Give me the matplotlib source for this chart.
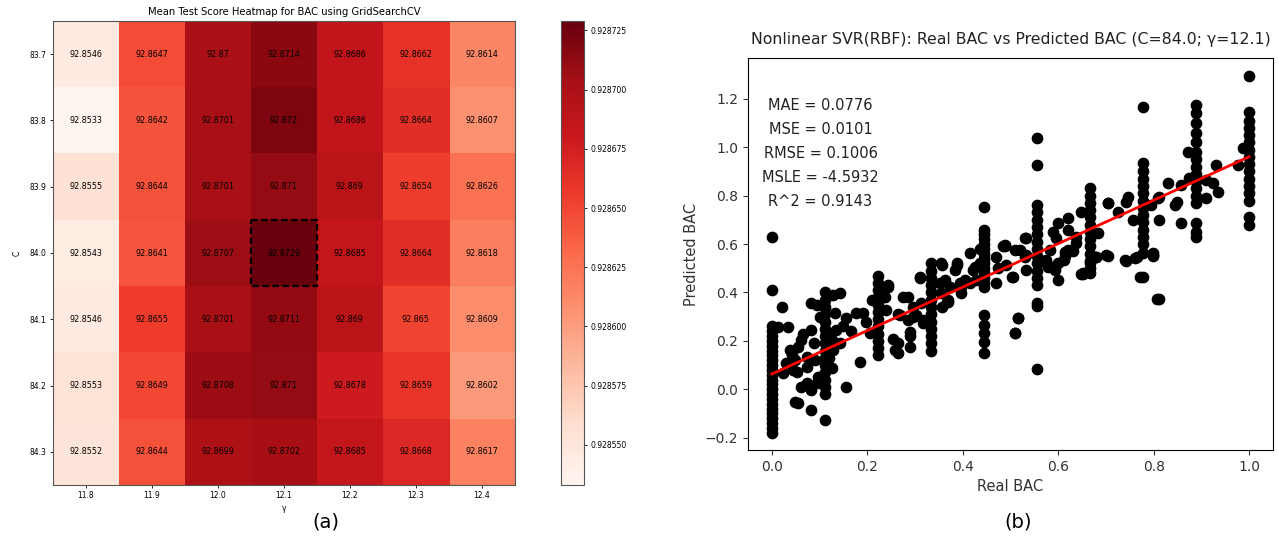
import numpy as np
import matplotlib
matplotlib.use("Agg")
import matplotlib.pyplot as plt
from matplotlib.patches import Rectangle
from matplotlib.ticker import FormatStrFormatter

# ---------------- heatmap data ----------------
C_labels = ["83.7", "83.8", "83.9", "84.0", "84.1", "84.2", "84.3"]
gamma_labels = ["11.8", "11.9", "12.0", "12.1", "12.2", "12.3", "12.4"]
row_83_7 = [92.8546, 92.8647, 92.87, 92.8714, 92.8686, 92.8662, 92.8614]
row_83_8 = [92.8533, 92.8642, 92.8701, 92.872, 92.8686, 92.8664, 92.8607]
row_83_9 = [92.8555, 92.8644, 92.8701, 92.871, 92.869, 92.8654, 92.8626]
row_84_0 = [92.8543, 92.8641, 92.8707, 92.8729, 92.8685, 92.8664, 92.8618]
row_84_1 = [92.8546, 92.8655, 92.8701, 92.8711, 92.869, 92.865, 92.8609]
row_84_2 = [92.8553, 92.8649, 92.8708, 92.871, 92.8678, 92.8659, 92.8602]
row_84_3 = [92.8552, 92.8644, 92.8699, 92.8702, 92.8685, 92.8668, 92.8617]
best_C = "84.0"
best_gamma = "12.1"
cbar_ticks = [0.928550, 0.928575, 0.928600, 0.928625, 0.928650, 0.928675, 0.928700, 0.928725]

# ---------------- scatter data ----------------
# predicted values at the discrete real-BAC levels
real_levels = [0.0, 1/9, 2/9, 3/9, 4/9, 5/9, 6/9, 7/9, 8/9, 1.0]
pred_at_0 = [-0.18, -0.16, -0.14, -0.12, -0.10, -0.08, -0.06, -0.04, -0.02, 0.0, 0.02, 0.04,
             0.06, 0.08, 0.10, 0.12, 0.14, 0.16, 0.18, 0.20, 0.22, 0.24, 0.26, 0.41, 0.63]
pred_at_1 = [0.40, 0.37, 0.34, 0.31, 0.28, 0.25, 0.22, 0.19, 0.16, 0.13, 0.10, 0.07, 0.04,
             0.01, -0.02, -0.126]
pred_at_2 = [0.47, 0.44, 0.41, 0.38, 0.35, 0.32, 0.29, 0.26, 0.23, 0.20, 0.17, 0.14]
pred_at_3 = [0.52, 0.49, 0.46, 0.43, 0.40, 0.37, 0.34, 0.31, 0.28, 0.25, 0.22, 0.19, 0.16]
pred_at_4 = [0.755, 0.66, 0.64, 0.62, 0.60, 0.58, 0.56, 0.54, 0.52, 0.50, 0.48, 0.46, 0.44,
             0.424, 0.307, 0.266, 0.231, 0.197, 0.149]
pred_at_5 = [1.037, 0.927, 0.762, 0.734, 0.70, 0.67, 0.64, 0.61, 0.58, 0.55, 0.52, 0.49,
             0.46, 0.43, 0.355, 0.345, 0.084]
pred_at_6 = [0.83, 0.80, 0.77, 0.74, 0.71, 0.68, 0.65, 0.62, 0.59, 0.56, 0.53, 0.50, 0.48]
pred_at_7 = [1.168, 0.934, 0.90, 0.87, 0.84, 0.81, 0.78, 0.75, 0.72, 0.69, 0.66, 0.63,
             0.60, 0.562, 0.465]
pred_at_8 = [1.175, 1.14, 1.10, 1.06, 1.02, 0.98, 0.95, 0.92, 0.89, 0.86, 0.83, 0.80,
             0.77, 0.686, 0.651, 0.631]
pred_at_9 = [1.295, 1.147, 1.11, 1.08, 1.05, 1.02, 0.99, 0.96, 0.93, 0.90, 0.87, 0.84,
             0.81, 0.78, 0.71, 0.68]

# points between the discrete levels
other_real = [0.022, 0.0135, 0.034, 0.024, 0.045, 0.038, 0.048, 0.055, 0.062, 0.073, 0.083,
              0.083, 0.094, 0.073, 0.062, 0.073, 0.083, 0.094, 0.097, 0.055, 0.048, 0.083,
              0.030, 0.042, 0.066, 0.088, 0.100, 0.090, 0.052,
              0.128, 0.142, 0.132, 0.125, 0.135, 0.125, 0.128, 0.156, 0.156, 0.142,
              0.118, 0.150, 0.165, 0.120,
              0.177, 0.191, 0.184, 0.205, 0.209, 0.198,
              0.243, 0.233, 0.240, 0.257, 0.264, 0.268, 0.275, 0.285, 0.289, 0.289, 0.296,
              0.303, 0.310, 0.317, 0.313,
              0.244, 0.237, 0.285, 0.296, 0.289, 0.254, 0.264, 0.264, 0.317,
              0.356, 0.352, 0.356, 0.370, 0.387, 0.394, 0.415, 0.422, 0.436, 0.355, 0.387,
              0.415, 0.436, 0.484, 0.470, 0.474, 0.491, 0.470,
              0.310, 0.362, 0.373, 0.397, 0.404, 0.425, 0.428, 0.397, 0.366, 0.383, 0.355,
              0.369,
              0.488, 0.505, 0.520, 0.530, 0.533, 0.533, 0.516, 0.509,
              0.488, 0.509, 0.533, 0.530, 0.582, 0.589, 0.596, 0.575, 0.600, 0.620, 0.620,
              0.638, 0.620, 0.613, 0.600, 0.593, 0.504, 0.600, 0.516, 0.509, 0.579, 0.614,
              0.631,
              0.575, 0.589, 0.614, 0.638, 0.648, 0.652, 0.680, 0.683,
              0.648, 0.666, 0.680, 0.651, 0.704, 0.704, 0.701, 0.725, 0.746, 0.742, 0.739,
              0.760, 0.771, 0.764, 0.742, 0.704, 0.757, 0.799,
              0.798, 0.795, 0.812, 0.830, 0.844, 0.858, 0.858, 0.848, 0.812, 0.875, 0.872,
              0.798, 0.811, 0.806, 0.809,
              0.910, 0.931, 0.935, 0.910, 0.924, 0.977, 0.987]
other_pred = [0.341, 0.259, 0.256, 0.066, 0.080, 0.162, 0.121, 0.176, 0.203, 0.135, 0.245,
              0.355, 0.348, 0.093, 0.010, 0.024, -0.003, 0.024, 0.052, -0.058, -0.051, -0.086,
              0.110, 0.140, 0.230, 0.190, 0.300, 0.120, 0.070,
              0.390, 0.397, 0.314, 0.204, 0.245, 0.087, 0.162, 0.293, 0.011, 0.190,
              0.230, 0.260, 0.240, 0.130,
              0.314, 0.314, 0.114, 0.231, 0.369, 0.280,
              0.430, 0.383, 0.328, 0.162, 0.148, 0.307, 0.383, 0.286, 0.238, 0.176, 0.341,
              0.307, 0.458, 0.286, 0.355,
              0.424, 0.383, 0.383, 0.300, 0.220, 0.207, 0.193, 0.310, 0.272,
              0.514, 0.438, 0.340, 0.370, 0.514, 0.438, 0.440, 0.493, 0.520, 0.520, 0.520,
              0.562, 0.580, 0.590, 0.548, 0.500, 0.514, 0.440,
              0.465, 0.450, 0.424, 0.424, 0.452, 0.506, 0.452, 0.396, 0.362, 0.493, 0.397,
              0.362,
              0.590, 0.466, 0.576, 0.624, 0.555, 0.493, 0.293, 0.231,
              0.597, 0.576, 0.624, 0.548, 0.576, 0.651, 0.624, 0.520, 0.686, 0.706, 0.658,
              0.630, 0.576, 0.535, 0.520, 0.493, 0.463, 0.452, 0.293, 0.231, 0.507, 0.551,
              0.570,
              0.535, 0.507, 0.569, 0.603, 0.734, 0.479, 0.548, 0.644,
              0.478, 0.520, 0.548, 0.476, 0.768, 0.551, 0.555, 0.734, 0.796, 0.775, 0.534,
              0.541, 0.465, 0.548, 0.532, 0.768, 0.700, 0.555,
              0.562, 0.761, 0.796, 0.851, 0.761, 0.844, 0.686, 0.775, 0.699, 0.872, 0.982,
              0.551, 0.372, 0.372, 0.789,
              0.789, 0.927, 0.817, 0.865, 0.851, 0.927, 0.996]

fit_real = [0.0, 1.0]
fit_pred = [0.063, 0.961]

metric_lines = ["MAE = 0.0776", "MSE = 0.0101", "RMSE = 0.1006", "MSLE = -4.5932", "R^2 = 0.9143"]

# ---------------- figure ----------------
W, H = 1279, 545
fig = plt.figure(figsize=(W / 100, H / 100), dpi=100)

# heatmap
scores = np.array([row_83_7, row_83_8, row_83_9, row_84_0, row_84_1, row_84_2, row_84_3])
frac = scores / 100.0
ax1 = fig.add_axes([52.7 / W, 1 - 485 / H, (515 - 52.7) / W, (485 - 21) / H])
im = ax1.imshow(frac, cmap="Reds", vmin=frac.min(), vmax=frac.max(), aspect="auto")
for i in range(scores.shape[0]):
    for j in range(scores.shape[1]):
        ax1.text(j, i, f"{scores[i, j]:g}", ha="center", va="center", fontsize=5.8, color="black")
ax1.set_xticks(range(len(gamma_labels)))
ax1.set_xticklabels(gamma_labels, fontsize=5.5)
ax1.set_yticks(range(len(C_labels)))
ax1.set_yticklabels(C_labels, fontsize=5.5)
ax1.tick_params(length=2.5, width=0.6, pad=2)
ax1.set_xlabel("γ", fontsize=5.5, labelpad=3)
ax1.set_ylabel("C", fontsize=5.5, labelpad=6)
ax1.set_title("Mean Test Score Heatmap for BAC using GridSearchCV", fontsize=7.2, pad=4)
for s in ax1.spines.values():
    s.set_linewidth(0.8)
    s.set_color("#555555")
bi = C_labels.index(best_C)
bj = gamma_labels.index(best_gamma)
ax1.add_patch(Rectangle((bj - 0.5, bi - 0.5), 1, 1, fill=False, ec="black", lw=1.6,
                        ls=(0, (3, 1.5))))

cax = fig.add_axes([561 / W, 1 - 485 / H, 23 / W, (485 - 21) / H])
cb = fig.colorbar(im, cax=cax)
cb.set_ticks(cbar_ticks)
cb.ax.yaxis.set_major_formatter(FormatStrFormatter("%.6f"))
cb.ax.tick_params(labelsize=5.5, length=2.5, width=0.6, pad=2)
cb.outline.set_linewidth(0.8)
cb.outline.set_edgecolor("#555555")

# scatter
xs = []
ys = []
for lvl, vals in zip(real_levels, [pred_at_0, pred_at_1, pred_at_2, pred_at_3, pred_at_4,
                                   pred_at_5, pred_at_6, pred_at_7, pred_at_8, pred_at_9]):
    xs += [lvl] * len(vals)
    ys += vals
xs += other_real
ys += other_pred

ax2 = fig.add_axes([748 / W, 1 - 450 / H, (1273 - 748) / W, (450 - 58) / H])
ax2.scatter(xs, ys, s=55, color="black", zorder=2)
ax2.plot(fit_real, fit_pred, color="red", lw=2, zorder=3)
ax2.set_xlim(-0.05, 1.05)
ax2.set_ylim(-0.251, 1.369)
ax2.set_xticks([0.0, 0.2, 0.4, 0.6, 0.8, 1.0])
ax2.set_yticks([-0.2, 0.0, 0.2, 0.4, 0.6, 0.8, 1.0, 1.2])
ax2.tick_params(labelsize=10, colors="#333333")
ax2.set_xlabel("Real BAC", fontsize=10.5, color="#333333")
ax2.set_ylabel("Predicted BAC", fontsize=10.5, color="#333333")
ax2.set_title("Nonlinear SVR(RBF): Real BAC vs Predicted BAC (C=84.0; γ=12.1)",
              fontsize=11.3, pad=10, color="#222222")
for k, line in enumerate(metric_lines):
    ax2.text(0.138, 0.880 - k * 0.0615, line, transform=ax2.transAxes, ha="center",
             va="center", fontsize=10.5, color="#222222")

fig.text(326 / W, 1 - 522 / H, "(a)", ha="center", va="center", fontsize=14)
fig.text(1018 / W, 1 - 522 / H, "(b)", ha="center", va="center", fontsize=14)

fig.savefig("out.png", dpi=100)
